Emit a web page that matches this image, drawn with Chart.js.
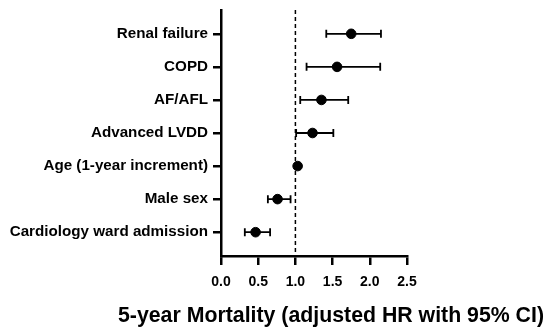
<!DOCTYPE html>
<html>
<head>
<meta charset="utf-8">
<script src="https://cdn.jsdelivr.net/npm/chart.js@4"></script>
<style>
  body { margin: 0; background: #fff; }
  #wrap { width: 550px; height: 336px; }
</style>
</head>
<body>
<div id="wrap"><canvas id="forest"></canvas></div>
<script>
// hazard ratios, top to bottom
const factors = ['Renal failure', 'COPD', 'AF/AFL', 'Advanced LVDD', 'Age (1-year increment)', 'Male sex', 'Cardiology ward admission'];
const hr = [1.75, 1.56, 1.35, 1.23, 1.03, 0.76, 0.465];
const ciLow = [1.415, 1.15, 1.065, 1.01, 1.02, 0.63, 0.32];
const ciHigh = [2.15, 2.14, 1.71, 1.51, 1.04, 0.935, 0.66];
const xTicks = [0, 0.5, 1, 1.5, 2, 2.5];
const xTitle = '5-year Mortality (adjusted HR with 95% CI)';

const FONT = 'Arial, "Liberation Sans", sans-serif';

// rows go top to bottom, so y position = count - index
const rowY = i => factors.length - i;

const points = hr.map((v, i) => ({ x: v, y: rowY(i) }));

// whiskers, reference line and the axis title (chart.js squeezes long scale titles)
const forestExtras = {
    id: 'forestExtras',
    beforeDatasetsDraw(chart) {
        const { ctx, chartArea, scales: { x, y } } = chart;
        ctx.save();
        // dashed line at HR = 1
        ctx.strokeStyle = '#000';
        ctx.lineWidth = 1.5;
        ctx.setLineDash([4, 3]);
        const x1 = x.getPixelForValue(1);
        ctx.beginPath();
        ctx.moveTo(x1, chartArea.top);
        ctx.lineTo(x1, chartArea.bottom);
        ctx.stroke();
        ctx.setLineDash([]);

        // confidence intervals
        ctx.lineWidth = 1.8;
        factors.forEach((f, i) => {
            const py = y.getPixelForValue(rowY(i));
            const a = x.getPixelForValue(ciLow[i]);
            const b = x.getPixelForValue(ciHigh[i]);
            ctx.beginPath();
            ctx.moveTo(a, py); ctx.lineTo(b, py);
            ctx.moveTo(a, py - 4); ctx.lineTo(a, py + 4);
            ctx.moveTo(b, py - 4); ctx.lineTo(b, py + 4);
            ctx.stroke();
        });
        ctx.restore();
    },
    afterDraw(chart) {
        const ctx = chart.ctx;
        ctx.save();
        ctx.fillStyle = '#000';
        ctx.font = 'bold 21.3px ' + FONT;
        ctx.textAlign = 'center';
        ctx.textBaseline = 'middle';
        ctx.fillText(xTitle, 331, 316);
        ctx.restore();
    }
};

new Chart(document.getElementById('forest'), {
    type: 'scatter',
    data: {
        datasets: [{
            data: points,
            backgroundColor: '#000',
            borderColor: '#000',
            pointRadius: 4.8,
            pointHoverRadius: 4.8
        }]
    },
    options: {
        responsive: true,
        maintainAspectRatio: false,
        animation: false,
        layout: { padding: { top: 10, right: 143, left: 0, bottom: 0 } },
        plugins: {
            legend: { display: false },
            tooltip: { enabled: false }
        },
        scales: {
            x: {
                min: 0,
                max: 2.5,
                afterBuildTicks: s => { s.ticks = xTicks.map(v => ({ value: v })); },
                grid: { drawOnChartArea: false, drawTicks: true, tickLength: 9, color: '#000', lineWidth: 2.5 },
                border: { color: '#000', width: 2.5 },
                ticks: {
                    color: '#000',
                    padding: 9,
                    font: { family: FONT, size: 14, weight: 'bold' },
                    callback: v => Number(v).toFixed(1)
                },
                afterFit: s => { s.height = 80; }
            },
            y: {
                min: 0.28,
                max: 7.72,
                afterBuildTicks: s => { s.ticks = factors.map((f, i) => ({ value: rowY(i) })); },
                grid: { drawOnChartArea: false, drawTicks: true, tickLength: 8, color: '#000', lineWidth: 2.5 },
                border: { color: '#000', width: 2.5 },
                ticks: {
                    color: '#000',
                    padding: 5,
                    font: { family: FONT, size: 15.2, weight: 'bold', lineHeight: 1 },
                    callback: v => factors[factors.length - v]
                },
                afterFit: s => { s.width = 221; s.paddingTop = 0; s.paddingBottom = 0; }
            }
        }
    },
    plugins: [forestExtras]
});
</script>
</body>
</html>
